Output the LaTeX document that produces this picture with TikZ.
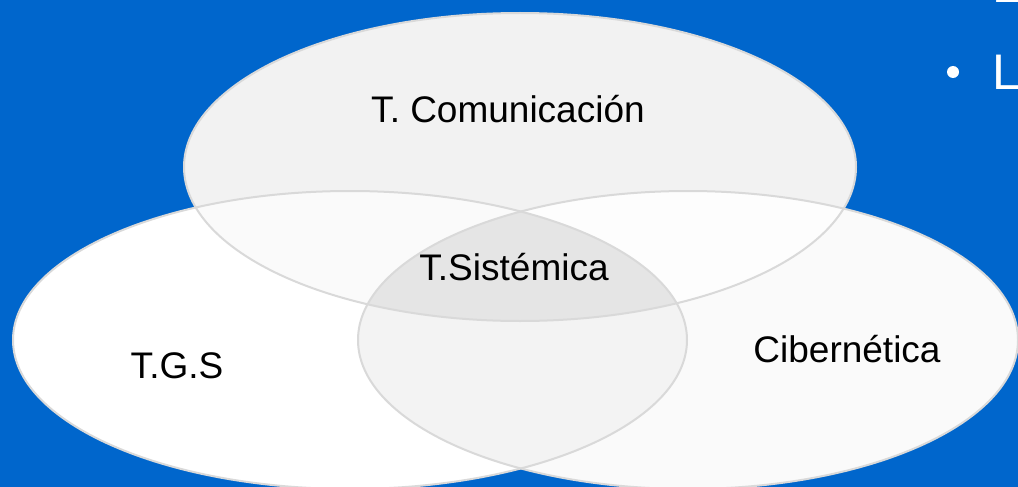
\documentclass[tikz,border=0pt]{standalone}
\usepackage{fontspec}
\setmainfont{Liberation Sans}

\definecolor{slideblue}{RGB}{0,102,204}
\definecolor{venngray}{RGB}{217,217,217}
\definecolor{fillcom}{RGB}{242,242,242}
\definecolor{filltgs}{RGB}{255,255,255}
\definecolor{fillcib}{RGB}{250,250,250}
\definecolor{fillcomtgs}{RGB}{250,250,250}
\definecolor{fillcomcib}{RGB}{253,253,253}
\definecolor{filltgscib}{RGB}{243,243,243}
\definecolor{fillcore}{RGB}{229,229,229}

% the three circles of the diagram
\def\comset{(520,167) ellipse [x radius=336, y radius=154]}
\def\tgsset{(350,340) ellipse [x radius=337, y radius=149]}
\def\cibset{(688,340) ellipse [x radius=330, y radius=149]}

\begin{document}
\begin{tikzpicture}[x=1pt,y=-1pt,
    vennline/.style={draw=venngray, line width=2pt},
    lbl/.style={font=\fontsize{37}{44}\selectfont, text=black, inner sep=0pt, anchor=base},
    slidetxt/.style={font=\fontsize{50}{60}\selectfont, text=white, inner sep=0pt, anchor=base west},
    bulletdot/.style={circle, fill=white, inner sep=0pt, minimum size=12pt}]
    \clip (0,0) rectangle (1018,487);
    \fill[slideblue] (0,0) rectangle (1018,487);

    % fills
    \fill[fillcom] \comset;
    \fill[filltgs] \tgsset;
    \fill[fillcib] \cibset;
    \begin{scope}
        \clip \comset;
        \fill[fillcomtgs] \tgsset;
        \fill[fillcomcib] \cibset;
    \end{scope}
    \begin{scope}
        \clip \tgsset;
        \fill[filltgscib] \cibset;
        \clip \cibset;
        \fill[fillcore] \comset;
    \end{scope}

    % outlines
    \draw[vennline] \comset;
    \draw[vennline] \tgsset;
    \draw[vennline] \cibset;

    % labels
    \node[lbl] (com)  at (508,122) {T. Comunicación};
    \node[lbl] (core) at (514,280) {T.Sistémica};
    \node[lbl] (tgs)  at (177,378) {T.G.S};
    \node[lbl] (cib)  at (847,362) {Cibernética};

    % slide text behind the diagram
    \node[slidetxt] (prev) at (992,3) {L};
    \node[bulletdot] (dot) at (953,72) {};
    \node[slidetxt] (next) at (992,89) {La};
\end{tikzpicture}
\end{document}
